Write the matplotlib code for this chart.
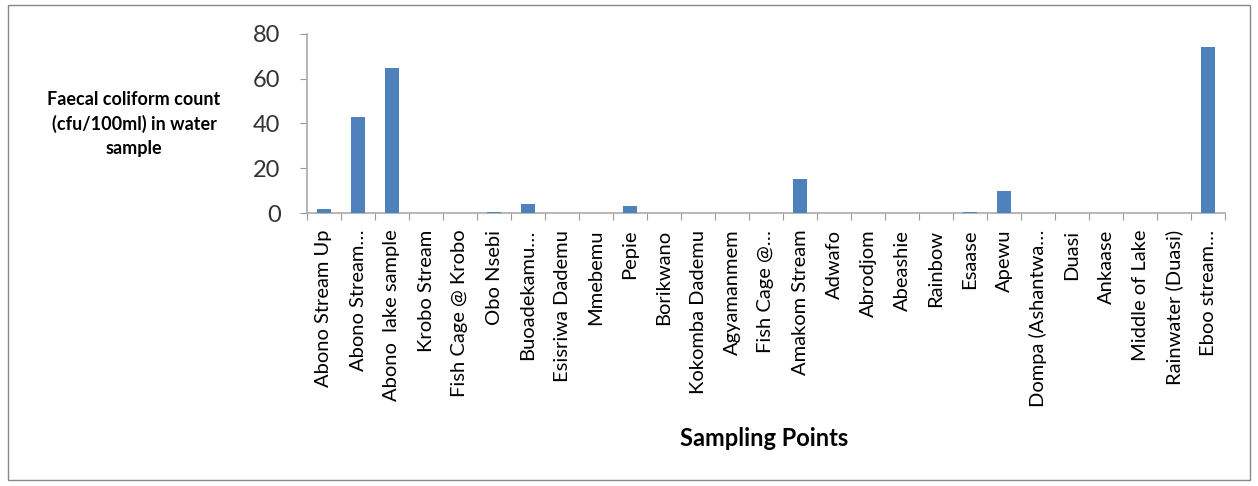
import matplotlib
matplotlib.use("Agg")
import matplotlib.pyplot as plt
from matplotlib.patches import Rectangle
import numpy as np

categories = ["Abono Stream Up", "Abono Stream…", "Abono  lake sample", "Krobo Stream",
              "Fish Cage @ Krobo", "Obo Nsebi", "Buoadekamu…", "Esisriwa Dademu",
              "Mmebemu", "Pepie", "Borikwano", "Kokomba Dademu", "Agyamanmem",
              "Fish Cage @…", "Amakom Stream", "Adwafo", "Abrodjom", "Abeashie",
              "Rainbow", "Esaase", "Apewu", "Dompa (Ashantwa…", "Duasi", "Ankaase",
              "Middle of Lake", "Rainwater (Duasi)", "Eboo stream…"]
values = [2, 43, 65, 0, 0, 0.5, 4, 0, 0, 3, 0, 0, 0, 0, 15, 0, 0, 0, 0, 0.5, 10,
          0, 0, 0, 0, 0, 74]
yticks = [0, 20, 40, 60, 80]

plt.rcParams['font.family'] = ['Lato', 'DejaVu Sans']

W, H = 1258, 486
fig = plt.figure(figsize=(W/100, H/100), dpi=100)
ax = fig.add_axes([307/W, 1-213/H, (1225-307)/W, (213-34)/H])

x = np.arange(len(categories))
ax.bar(x, values, width=0.43, color='#4F81BD', zorder=3)
ax.set_xlim(-0.5, len(categories)-0.5)
ax.set_ylim(0, 80)
ax.set_yticks(yticks)
ax.set_yticklabels([str(v) for v in yticks], fontsize=17, color='#333333')

ax.set_xticks(np.arange(len(categories)+1)-0.5)
ax.set_xticklabels([])
ax.set_xticks(x, minor=True)
ax.set_xticklabels(categories, minor=True, rotation=90, fontsize=14.5, va='top', ha='center')
ax.tick_params(axis='x', which='minor', length=0, pad=12)
ax.tick_params(axis='x', which='major', length=5, color='#999999', direction='out')
ax.tick_params(axis='y', length=5, color='#999999', direction='out', pad=14)

for s in ['top', 'right']:
    ax.spines[s].set_visible(False)
for s in ['left', 'bottom']:
    ax.spines[s].set_color('#aaaaaa')
    ax.spines[s].set_linewidth(1.2)

fig.text(134/W, 1-124/H, "Faecal coliform count\n(cfu/100ml) in water\nsample",
         ha='center', va='center', fontsize=13, fontweight='bold', linespacing=1.45)
fig.text(764/W, 1-438/H, "Sampling Points", ha='center', va='center',
         fontsize=17, fontweight='bold')

fig.patches.append(Rectangle((8/W, 1-480/H), (1250-8)/W, (480-5)/H,
                             transform=fig.transFigure, fill=False,
                             edgecolor='#888888', linewidth=1))

fig.savefig("out.png", dpi=100)
